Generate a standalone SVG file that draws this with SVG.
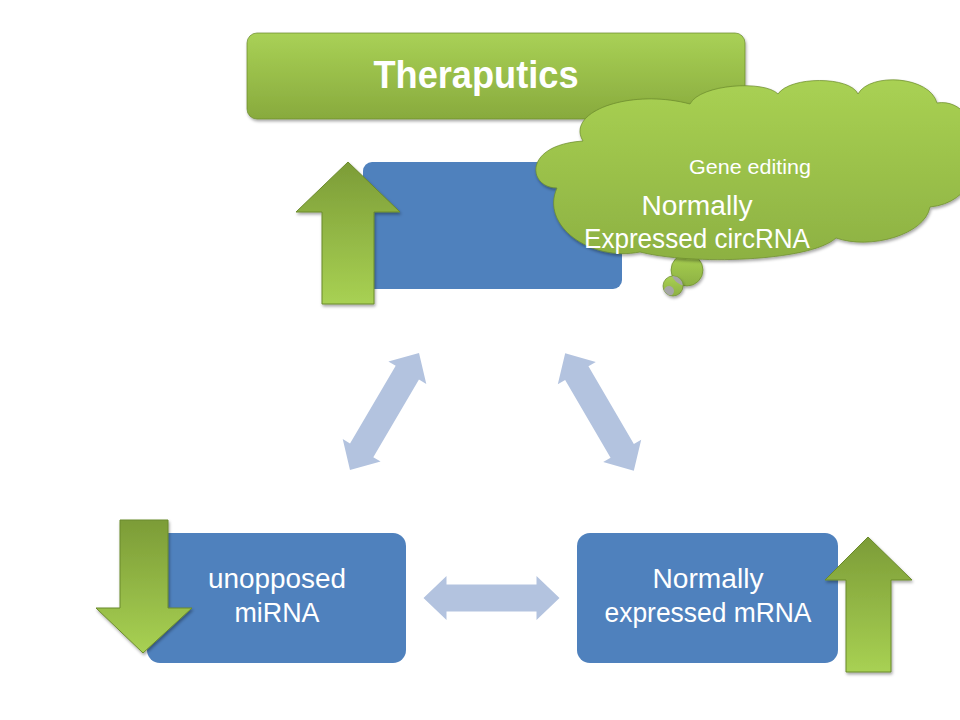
<svg xmlns="http://www.w3.org/2000/svg" width="960" height="720" viewBox="0 0 960 720">
  <defs>
    <linearGradient id="gTitle" x1="0" y1="0" x2="0" y2="1">
      <stop offset="0" stop-color="#a9d156"/>
      <stop offset="1" stop-color="#88aa3d"/>
    </linearGradient>
    <linearGradient id="gCloud" x1="0" y1="0" x2="0" y2="1">
      <stop offset="0" stop-color="#a9d153"/>
      <stop offset="1" stop-color="#8db142"/>
    </linearGradient>
    <linearGradient id="gArrow" x1="0" y1="0" x2="0" y2="1">
      <stop offset="0" stop-color="#7c9c37"/>
      <stop offset="1" stop-color="#a8d153"/>
    </linearGradient>
    <filter id="shadow" x="-20%" y="-20%" width="140%" height="150%">
      <feDropShadow dx="1" dy="2" stdDeviation="1.5" flood-color="#000" flood-opacity="0.35"/>
    </filter>
    <clipPath id="bigC"><circle cx="687" cy="270" r="16"/></clipPath>
    <clipPath id="midC"><circle cx="673" cy="286" r="10"/></clipPath>
    <polygon id="dbl" points="-68,0 -45,-22 -45,-13.5 45,-13.5 45,-22 68,0 45,22 45,13.5 -45,13.5 -45,22"/>
    <style>
      .box { fill: #4f81bd; }
      .green { stroke: #6b8a2c; stroke-width: 1; stroke-opacity: 0.7; filter: url(#shadow); }
      .arrow { fill: url(#gArrow); stroke: #6b8a2c; stroke-width: 1; stroke-linejoin: miter; filter: url(#shadow); }
      .conn { fill: #b3c3df; }
      .t { font-family: "Liberation Sans", Arial, sans-serif; fill: #ffffff; text-anchor: middle; }
    </style>
  </defs>

  <rect width="960" height="720" fill="#ffffff"/>

  <g id="title">
    <rect x="247" y="33" width="498" height="86" rx="10" ry="10" fill="url(#gTitle)" class="green"/>
    <text class="t" x="476" y="88" font-size="38" font-weight="bold" textLength="205" lengthAdjust="spacingAndGlyphs">Theraputics</text>
  </g>

  <g id="connectors">
    <use href="#dbl" class="conn" transform="translate(384.5,411.5) rotate(-59.5)"/>
    <use href="#dbl" class="conn" transform="translate(599.5,412) rotate(59.7)"/>
    <use href="#dbl" class="conn" transform="translate(491.5,598)"/>
  </g>

  <g id="circrna">
    <rect class="box" x="363" y="162" width="259" height="127" rx="9" ry="9"/>
    <polygon class="arrow" points="348,162 400,212 374,212 374,304 322,304 322,212 296,212"/>
  </g>

  <g id="cloud">
    <circle cx="687" cy="270" r="16" fill="url(#gCloud)" class="green"/>
    <circle cx="673" cy="286" r="10" fill="url(#gCloud)" class="green"/>
    <circle cx="673" cy="286" r="10" fill="#a6a6a6" clip-path="url(#bigC)"/>
    <circle cx="669" cy="291" r="5" fill="#a6a6a6" clip-path="url(#midC)"/>
    <path fill="url(#gCloud)" class="green" d="M 583,141 C 565,112 630,88 690,104 C 700,84 765,80 778,94 C 790,76 850,76 858,94 C 870,72 930,76 937,103 C 985,95 1000,200 930,207 C 925,235 870,250 836,238 C 810,262 690,265 640,252 C 590,262 540,225 557,188 C 528,188 522,145 583,141 Z"/>
    <text class="t" x="750" y="174" font-size="20" textLength="122" lengthAdjust="spacingAndGlyphs">Gene editing</text>
    <text class="t" x="697" y="215" font-size="27" textLength="111" lengthAdjust="spacingAndGlyphs">Normally</text>
    <text class="t" x="697" y="248" font-size="27" textLength="226" lengthAdjust="spacingAndGlyphs">Expressed circRNA</text>
  </g>

  <g id="mirna">
    <rect class="box" x="147" y="533" width="259" height="130" rx="13" ry="13"/>
    <polygon class="arrow" points="120,520 168,520 168,608 192,608 143,653 96,608 120,608"/>
    <text class="t" x="277" y="588" font-size="27" textLength="138" lengthAdjust="spacingAndGlyphs">unopposed</text>
    <text class="t" x="277" y="622" font-size="27" textLength="85" lengthAdjust="spacingAndGlyphs">miRNA</text>
  </g>

  <g id="mrna">
    <rect class="box" x="577" y="533" width="261" height="130" rx="13" ry="13"/>
    <polygon class="arrow" points="868,537 912,580 891,580 891,672 846,672 846,580 825,580"/>
    <text class="t" x="708" y="588" font-size="27" textLength="111" lengthAdjust="spacingAndGlyphs">Normally</text>
    <text class="t" x="708" y="622" font-size="27" textLength="207" lengthAdjust="spacingAndGlyphs">expressed mRNA</text>
  </g>
</svg>
